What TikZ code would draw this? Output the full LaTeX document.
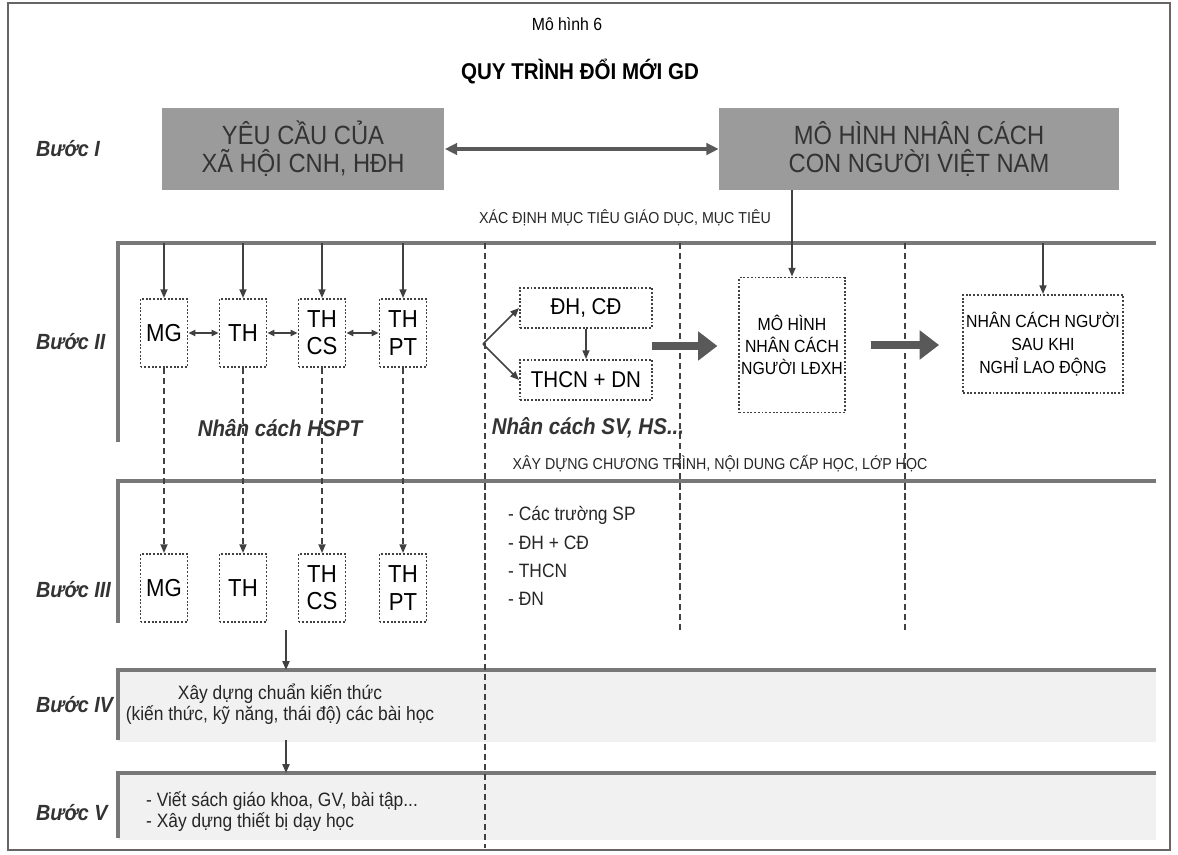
\documentclass[tikz,border=0pt]{standalone}
\usepackage{fontspec}
\setmainfont{Liberation Sans}[FakeStretch=0.9]
\usetikzlibrary{arrows.meta}
\definecolor{inkD}{RGB}{65,65,65}
\definecolor{bandG}{RGB}{120,120,120}
\definecolor{boxG}{RGB}{155,155,155}
\definecolor{paleG}{RGB}{241,241,241}
\newcommand{\BL}{118}
\newcommand{\BR}{1156}

\begin{document}
\begin{tikzpicture}[x=0.02cm, y=-0.02cm,
    band/.style={draw=bandG, line width=2.8pt},
    sep/.style={draw=inkD, line width=0.8pt, dash pattern=on 3.5pt off 2.2pt},
    arr/.style={draw=inkD, line width=0.9pt, -{Triangle[length=5pt,width=4pt]}},
    darr/.style={arr, dash pattern=on 3.5pt off 2.2pt},
    twin/.style={draw=inkD, line width=0.9pt,
      {Triangle[length=4pt,width=3.6pt]}-{Triangle[length=4pt,width=3.6pt]}},
    fatarr/.style={draw=black!65, line width=4.5pt, -{Triangle[length=11pt,width=16pt]}},
    head/.style={fill=boxG, minimum height=1.64cm, align=center, text=black!80,
      font=\fontsize{15}{16}\selectfont},
    sch/.style={draw=inkD, densely dotted, line width=1.1pt, minimum width=0.94cm,
      minimum height=1.36cm, align=center, inner sep=1pt, font=\fontsize{14}{15.5}\selectfont},
    dbox/.style={draw=inkD, densely dotted, line width=1.1pt, align=center, inner sep=1pt},
    stage/.style={anchor=west, font=\bfseries\itshape\fontsize{12.5}{15}\selectfont, text=black!80},
    tag/.style={font=\bfseries\itshape\fontsize{13}{15}\selectfont, text=black!80},
    caption/.style={font=\fontsize{9}{11}\selectfont, text=black!85},
    txt/.style={font=\fontsize{11}{12}\selectfont, text=black!85},
  ]
  \useasboundingbox (0,0) rectangle (1178,855);
  \draw[black!60, line width=0.6pt] (8,3) rectangle (1170,850);

  % titles
  \node[font=\fontsize{10}{12}\selectfont] (ttl) at (567,24) {Mô hình 6};
  \node[font=\bfseries\fontsize{13}{15}\selectfont] (main) at (580,72) {QUY TRÌNH ĐỔI MỚI GD};

  %% ================= Buoc I =================
  \node[stage] (s1) at (30,149) {Bước I};
  \node[head, minimum width=5.66cm] (yc) at (303,149) {YÊU CẦU CỦA\\XÃ HỘI CNH, HĐH};
  \node[head, minimum width=8.0cm] (mhvn) at (919,149) {MÔ HÌNH NHÂN CÁCH\\CON NGƯỜI VIỆT NAM};
  \draw[draw=black!65, line width=1.9pt,
        {Triangle[length=7pt,width=6.5pt]}-{Triangle[length=7pt,width=6.5pt]}] (yc) -- (mhvn);
  \node[caption] (xd) at (625,218) {XÁC ĐỊNH MỤC TIÊU GIÁO DỤC, MỤC TIÊU};

  %% ================= bands and column separators =================
  \fill[paleG] (\BL,670) rectangle (\BR,742);
  \fill[paleG] (\BL,773) rectangle (\BR,840);
  \draw[band] (\BL,442) -- (\BL,243) -- (\BR,243);
  \draw[band] (\BL,623) -- (\BL,481) -- (\BR,481);
  \draw[band] (\BL,740) -- (\BL,670) -- (\BR,670);
  \draw[band] (\BL,838) -- (\BL,773) -- (\BR,773);
  \coordinate (b2) at (0,243);
  \coordinate (b4) at (0,670);
  \coordinate (b5) at (0,773);
  \draw[sep] (485,243) -- (485,848);
  \foreach \x in {680,905} \draw[sep] (\x,243) -- (\x,630);

  %% ================= Buoc II and III: school levels =================
  \node[stage] (s2) at (30,342) {Bước II};
  \node[stage] (s3) at (30,590) {Bước III};
  \foreach \n/\x/\t in {mg/164/MG, th/243/TH, cs/322/{TH\\CS}, pt/403/{TH\\PT}} {
    \node[sch] (\n2) at (\x,333) {\t};
    \node[sch] (\n3) at (\x,588) {\t};
    \draw[arr] (\n2.north |- b2) -- (\n2.north);
    \draw[darr] (\n2.south) -- (\n3.north);
  }
  \draw[twin] (mg2) -- (th2);
  \draw[twin] (th2) -- (cs2);
  \draw[twin] (cs2) -- (pt2);
  \node[tag] (hspt) at (280,428) {Nhân cách HSPT};

  % higher levels and later life
  \coordinate (fork) at (483,344);
  \node[dbox, minimum width=2.64cm, minimum height=0.8cm, font=\fontsize{13}{15}\selectfont]
        (dhcd) at (586,308) {ĐH, CĐ};
  \node[dbox, minimum width=2.64cm, minimum height=0.8cm, font=\fontsize{13}{15}\selectfont]
        (thcn) at (586,380) {THCN + DN};
  \draw[arr] (fork) -- (dhcd.west);
  \draw[arr] (fork) -- (thcn.west);
  \draw[arr] (dhcd) -- (thcn);
  \node[tag] (svhs) at (588,428) {Nhân cách SV, HS...};

  \node[dbox, minimum width=2.1cm, minimum height=2.7cm, font=\fontsize{10}{12.5}\selectfont]
        (lao) at (792,345) {MÔ HÌNH\\NHÂN CÁCH\\NGƯỜI LĐXH};
  \node[dbox, minimum width=3.2cm, minimum height=1.96cm, font=\fontsize{10}{13}\selectfont]
        (sau) at (1043,344) {NHÂN CÁCH NGƯỜI\\SAU KHI\\NGHỈ LAO ĐỘNG};
  \draw[arr] (lao.north |- mhvn.south) -- (lao.north);
  \draw[arr] (sau.north |- b2) -- (sau.north);
  \coordinate (f1) at (652,346);
  \draw[fatarr, shorten >=0.42cm] (f1) -- (f1 -| lao.west);
  \draw[fatarr, shorten <=0.5cm, shorten >=0.46cm] (lao.east) -- (lao.east -| sau.west);

  %% ================= Buoc III: programmes =================
  \node[caption] (xdct) at (720,464) {XÂY DỰNG CHƯƠNG TRÌNH, NỘI DUNG CẤP HỌC, LỚP HỌC};
  \foreach \t [count=\i] in {Các trường SP, ĐH + CĐ, THCN, ĐN}
    \node[txt, anchor=west] (it\i) at (502,{487+28*\i}) {- \t};

  %% ================= Buoc IV and V =================
  \node[stage] (s4) at (30,705) {Bước IV};
  \node[txt, align=center] (ckt) at (280,704)
        {Xây dựng chuẩn kiến thức\\(kiến thức, kỹ năng, thái độ) các bài học};
  \coordinate (c3) at (286,630);
  \draw[arr] (c3) -- (c3 |- b4);
  \node[stage] (s5) at (30,813) {Bước V};
  \node[txt, align=left, anchor=west] (sgk) at (140,812)
        {- Viết sách giáo khoa, GV, bài tập...\\- Xây dựng thiết bị dạy học};
  \coordinate (c4) at (286,740);
  \draw[arr] (c4) -- (c4 |- b5);
\end{tikzpicture}
\end{document}
